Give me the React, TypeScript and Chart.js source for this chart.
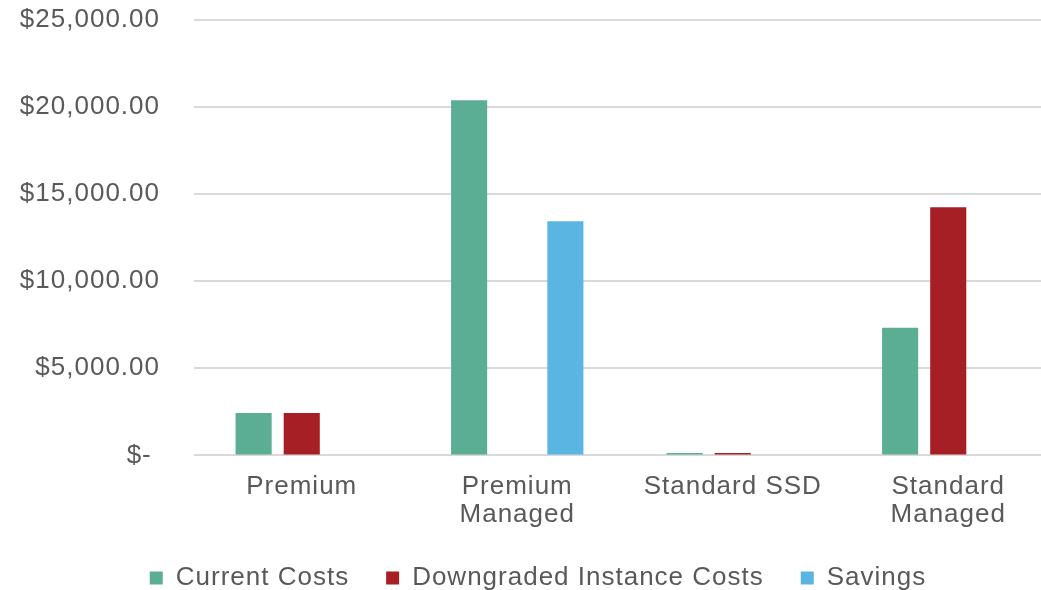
import React, { useEffect, useRef } from "react";
import { Chart, registerables } from "chart.js";

Chart.register(...registerables);

const categories: string[][] = [["Premium"], ["Premium", "Managed"], ["Standard SSD"], ["Standard", "Managed"]];
const currentCosts: (number | null)[] = [2440, 20390, 140, 7330];
const downgradedCosts: (number | null)[] = [2440, null, 140, 14250];
const savings: (number | null)[] = [null, 13440, null, null];
const yTicks: number[] = [0, 5000, 10000, 15000, 20000, 25000];

const FONT = "'Liberation Sans', Arial, Helvetica, sans-serif";
const TEXT = "#595959";

const spacingPlugin = {
  id: "spacing",
  beforeInit(chart: any) { chart.ctx.letterSpacing = "1px"; },
  beforeUpdate(chart: any) { chart.ctx.letterSpacing = "1px"; },
  afterLayout(chart: any) {
    const lg = chart.legend;
    if (lg) {
      lg.left = 20;
      lg.right = chart.width;
      lg.top -= 10;
      lg.bottom -= 10;
    }
  },
  beforeDraw(chart: any) { chart.ctx.letterSpacing = "1px"; },
};

export default function App() {
  const ref = useRef<HTMLCanvasElement | null>(null);
  useEffect(() => {
    document.body.style.margin = "0";
    const canvas = ref.current!;
    const chart = new Chart(canvas, {
      type: "bar",
      data: {
        labels: categories,
        datasets: [
          { label: "Current Costs", data: currentCosts, backgroundColor: "#5BAE93" },
          { label: "Downgraded Instance Costs", data: downgradedCosts, backgroundColor: "#A51F25" },
          { label: "Savings", data: savings, backgroundColor: "#5AB5E2" },
        ],
      },
      plugins: [spacingPlugin],
      options: {
        responsive: false,
        animation: false,
        devicePixelRatio: 1,
        layout: { padding: { left: 0, right: 0, top: 1, bottom: -21 } },
        datasets: { bar: { categoryPercentage: 0.67, barPercentage: 0.75, borderWidth: 0 } },
        plugins: {
          tooltip: { enabled: false },
          legend: {
            position: "bottom",
            labels: {
              font: { family: FONT, size: 26 },
              color: TEXT,
              boxWidth: 13,
              boxHeight: 13,
              padding: 37,
            },
          },
        },
        scales: {
          x: {
            grid: { display: false },
            border: { display: false },
            ticks: {
              font: { family: FONT, size: 26, lineHeight: 1.05 },
              color: TEXT,
              padding: 10,
              maxRotation: 0,
              autoSkip: false,
            },
          },
          y: {
            min: 0,
            max: 25000,
            afterFit: (s: any) => {
              s.width = 194;
              s.paddingTop = 20;
              s.paddingBottom = 0;
            },
            afterBuildTicks: (s: any) => { s.ticks = yTicks.map((v) => ({ value: v })); },
            grid: { color: "#d9d9d9", lineWidth: 2, drawTicks: false },
            border: { display: false },
            ticks: {
              font: { family: FONT, size: 26 },
              color: TEXT,
              padding: 34,
              callback: (v: any) =>
                Number(v) === 0
                  ? "$- "
                  : "$" + Number(v).toLocaleString("en-US", { minimumFractionDigits: 2, maximumFractionDigits: 2 }),
            },
          },
        },
      },
    });
    return () => chart.destroy();
  }, []);
  return (
    <div style={{ width: 1041, height: 590, overflow: "hidden", position: "relative", background: "#fff" }}>
      <canvas ref={ref} width={1056} height={590} style={{ width: 1056, height: 590, display: "block" }} />
    </div>
  );
}
